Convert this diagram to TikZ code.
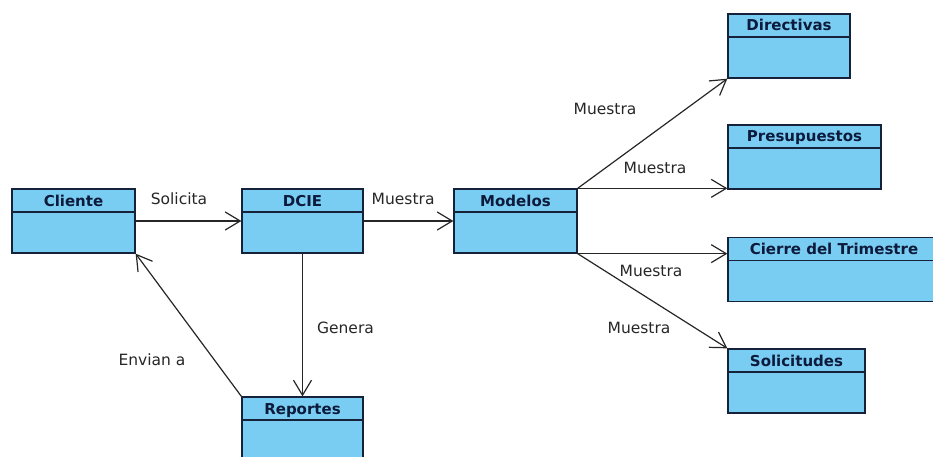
\documentclass[tikz,border=0pt]{standalone}
\usepackage{fontspec}
\setmainfont{DejaVu Sans}
\usetikzlibrary{arrows.meta}
\definecolor{celeste}{RGB}{122,205,242}
\definecolor{borde}{RGB}{22,34,58}
\definecolor{tinta}{RGB}{12,26,60}
\begin{document}
\begin{tikzpicture}[x=1pt,y=-1pt]
	\tikzset{clase/.style={draw=borde,fill=celeste,line width=1.3pt,inner xsep=0pt,inner ysep=0pt,minimum width=#1,text height=17pt,text depth=47pt,text=tinta,font=\fontsize{15}{17}\selectfont\bfseries,
			path picture={\draw[borde,line width=1.3pt]([yshift=-23pt]path picture bounding box.north west)--([yshift=-23pt]path picture bounding box.north east);}},
		flecha/.style={draw=black!85,line width=1.2pt,-{Straight Barb[length=15pt,width=18pt]}},
		etiqueta/.style={text=black!85,font=\fontsize{15.5}{18}\selectfont}}
	\useasboundingbox(0,0)rectangle(933,457);
	\node[clase=123pt](cliente)at(73.5,221){Cliente};
	\node[clase=121pt](dcie)at(302.5,221){DCIE};
	\node[clase=123pt](modelos)at(515.5,221){Modelos};
	\node[clase=122pt](directivas)at(789,46){Directivas};
	\node[clase=153pt](presupuestos)at(804.5,157){Presupuestos};
	\node[clase=212pt](cierre)at(834,269.5){Cierre del Trimestre};
	\node[clase=137pt](solicitudes)at(796.5,381){Solicitudes};
	\node[clase=121pt](reportes)at(302.5,429){Reportes};
	\draw[flecha](cliente)--node[etiqueta,pos=.41,yshift=22pt](solicita){Solicita}(dcie);
	\draw[flecha](dcie)--node[etiqueta,pos=.44,yshift=22pt](muestra1){Muestra}(modelos);
	\draw[flecha](modelos.north east)--node[etiqueta,pos=.5,xshift=-47.5pt,yshift=25pt](muestra2){Muestra}(directivas.south west);
	\draw[flecha](modelos.north east)--node[etiqueta,pos=.517,yshift=20pt](muestra3){Muestra}(modelos.north east-|presupuestos.west);
	\draw[flecha](modelos.south east)--node[etiqueta,pos=.49,yshift=-17pt](muestra4){Muestra}(modelos.south east-|cierre.west);
	\draw[flecha](modelos.south east)--node[etiqueta,pos=.5,xshift=-13.5pt,yshift=-27pt](muestra5){Muestra}(solicitudes.north west);
	\draw[flecha](dcie)--node[etiqueta,pos=.52,xshift=43pt](genera){Genera}(reportes);
	\draw[flecha](reportes.north west)--node[etiqueta,pos=.5,xshift=-36.5pt,yshift=-35pt](envian){Envian a}(cliente.south east);
\end{tikzpicture}
\end{document}
